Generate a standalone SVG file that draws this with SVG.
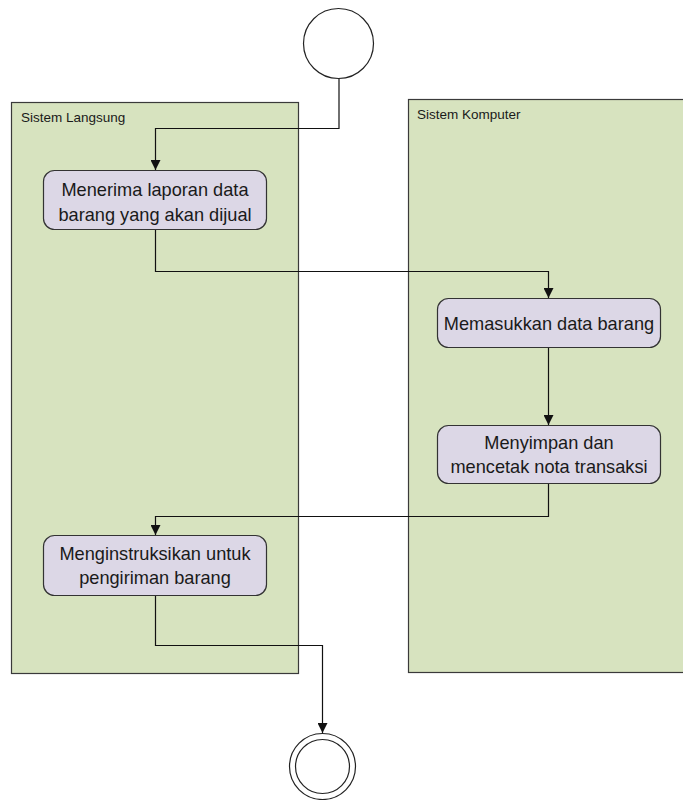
<svg xmlns="http://www.w3.org/2000/svg" width="683" height="800" viewBox="0 0 683 800">
  <style>
    .lane { fill: #d7e3bf; stroke: #3a3a3a; stroke-width: 1.2; }
    .lane-label { font-family: "Liberation Sans", "DejaVu Sans", sans-serif; font-size: 13.5px; fill: #1a1a1a; }
    .act { fill: #dcd7e6; stroke: #333; stroke-width: 1.2; }
    .act-text { font-family: "Liberation Sans", "DejaVu Sans", sans-serif; font-size: 18.2px; fill: #1a1a1a; text-anchor: middle; }
    .node-circle { fill: #ffffff; stroke: #222; stroke-width: 1.2; }
    .conn { fill: none; stroke: #111; stroke-width: 1.2; }
  </style>
  <defs>
    <marker id="arrow" viewBox="0 0 10 10" refX="10" refY="5" markerWidth="10" markerHeight="10" markerUnits="userSpaceOnUse" orient="auto">
      <path d="M0,0 L10,5 L0,10 z" fill="#111"/>
    </marker>
  </defs>

  <!-- swimlanes -->
  <g id="lane-langsung">
    <rect class="lane" x="11.5" y="102.5" width="287" height="571"/>
    <text class="lane-label" x="21" y="122">Sistem Langsung</text>
  </g>
  <g id="lane-komputer">
    <rect class="lane" x="408.5" y="99.5" width="290" height="573"/>
    <text class="lane-label" x="417" y="119">Sistem Komputer</text>
  </g>

  <!-- connectors -->
  <g id="connectors">
    <path class="conn" d="M339,78 V128.5 H155.5 V170" marker-end="url(#arrow)"/>
    <path class="conn" d="M155.5,230 V271.5 H548.5 V298" marker-end="url(#arrow)"/>
    <path class="conn" d="M548.5,348 V425" marker-end="url(#arrow)"/>
    <path class="conn" d="M548.5,484 V516.5 H155.5 V535" marker-end="url(#arrow)"/>
    <path class="conn" d="M155.5,596 V645.5 H322.5 V733" marker-end="url(#arrow)"/>
  </g>

  <!-- start node -->
  <g id="start">
    <circle class="node-circle" cx="338.5" cy="43.5" r="35"/>
  </g>

  <!-- activities -->
  <g id="act-menerima">
    <rect class="act" x="43.5" y="170.5" width="223" height="59" rx="11"/>
    <text class="act-text" x="155" y="196">Menerima laporan data</text>
    <text class="act-text" x="155" y="221">barang yang akan dijual</text>
  </g>
  <g id="act-memasukkan">
    <rect class="act" x="437.5" y="298.5" width="223" height="49" rx="11"/>
    <text class="act-text" x="549" y="330">Memasukkan data barang</text>
  </g>
  <g id="act-menyimpan">
    <rect class="act" x="437.5" y="425.5" width="223" height="58" rx="11"/>
    <text class="act-text" x="549" y="449">Menyimpan dan</text>
    <text class="act-text" x="549" y="473">mencetak nota transaksi</text>
  </g>
  <g id="act-menginstruksikan">
    <rect class="act" x="43.5" y="535.5" width="223" height="60" rx="11"/>
    <text class="act-text" x="155" y="560">Menginstruksikan untuk</text>
    <text class="act-text" x="155" y="584">pengiriman barang</text>
  </g>

  <!-- end node -->
  <g id="end">
    <circle class="node-circle" cx="322.5" cy="766.5" r="33"/>
    <circle class="node-circle" cx="322.5" cy="766.5" r="27"/>
  </g>
</svg>
